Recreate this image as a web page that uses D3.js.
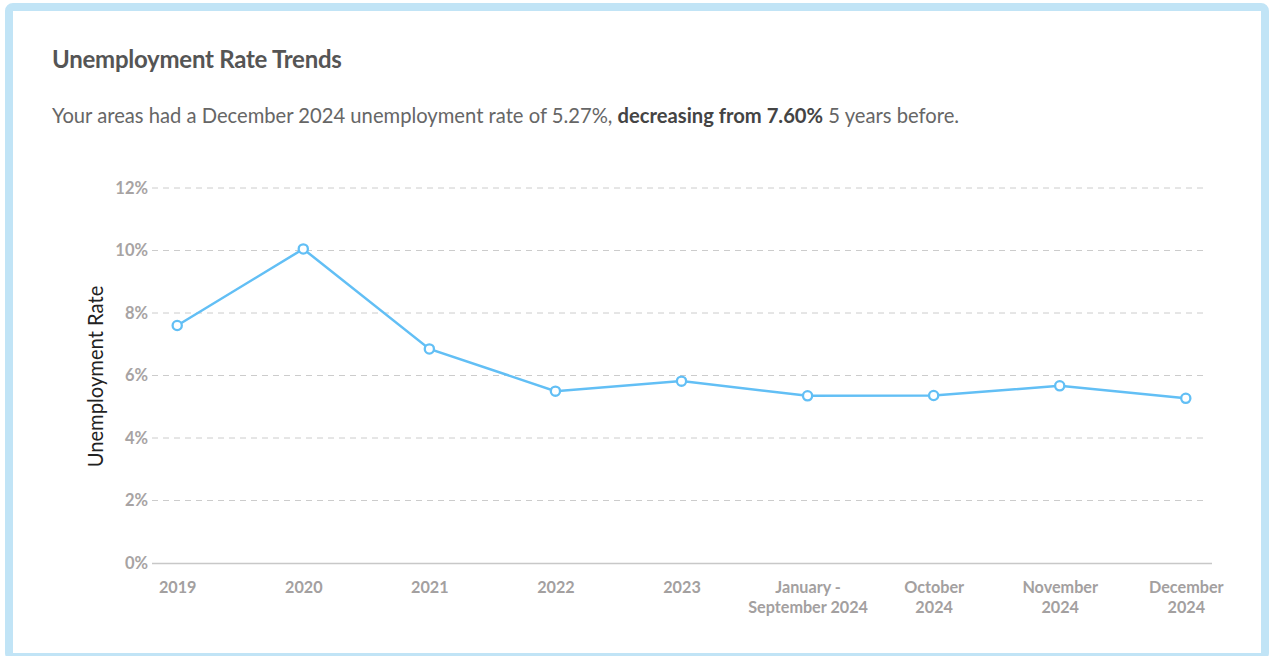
<!DOCTYPE html>
<html>
<head>
<meta charset="utf-8">
<script src="https://cdn.jsdelivr.net/npm/d3@7"></script>
<style>
  html, body { margin: 0; padding: 0; background: #ffffff; }
  svg { display: block; }
  text { font-family: Lato, "Open Sans", sans-serif; }
</style>
</head>
<body>
<svg id="chart" width="1269" height="656"></svg>
<script>
// Unemployment rate by period
const periods = ["2019", "2020", "2021", "2022", "2023", "Jan-Sep 2024", "Oct 2024", "Nov 2024", "Dec 2024"];
const periodLabels = [["2019"], ["2020"], ["2021"], ["2022"], ["2023"], ["January -", "September 2024"], ["October", "2024"], ["November", "2024"], ["December", "2024"]];
const rates = [7.60, 10.05, 6.85, 5.50, 5.82, 5.35, 5.36, 5.67, 5.27];
const yTicks = [0, 2, 4, 6, 8, 10, 12];

const svg = d3.select("#chart");

// card frame
svg.append("rect")
  .attr("x", 9).attr("y", 7)
  .attr("width", 1256).attr("height", 650)
  .attr("rx", 4)
  .attr("fill", "#ffffff")
  .attr("stroke", "#c1e4f6")
  .attr("stroke-width", 8);

// heading
svg.append("text")
  .attr("x", 52).attr("y", 68)
  .attr("font-size", 24).attr("font-weight", 700)
  .attr("fill", "#555555")
  .attr("letter-spacing", -0.25)
  .text("Unemployment Rate Trends");

const sub = svg.append("text")
  .attr("x", 52).attr("y", 123)
  .attr("font-size", 20.2)
  .attr("fill", "#666666");
sub.append("tspan").text("Your areas had a December 2024 unemployment rate of 5.27%, ");
sub.append("tspan").attr("font-weight", 700).attr("fill", "#444444").text("decreasing from 7.60%");
sub.append("tspan").text(" 5 years before.");

// scales
const x = d3.scalePoint().domain(periods).range([152, 1211]).padding(0.2);
const y = d3.scaleLinear().domain([0, 12]).range([563, 188]);

// horizontal grid
const grid = svg.append("g").attr("class", "grid");
grid.selectAll("line")
  .data(yTicks.filter(d => d > 0))
  .join("line")
  .attr("x1", 152).attr("x2", 1208)
  .attr("y1", d => y(d)).attr("y2", d => y(d))
  .attr("stroke", "#cccccc")
  .attr("stroke-width", 1)
  .attr("stroke-dasharray", "6,5");

// y axis
const yAxis = svg.append("g")
  .attr("transform", "translate(152,0)")
  .call(d3.axisLeft(y).tickValues(yTicks).tickFormat(d => d + "%").tickSize(0).tickPadding(4));
yAxis.select(".domain").remove();
yAxis.selectAll("text")
  .attr("font-family", "Lato, sans-serif")
  .attr("font-size", 16.5)
  .attr("font-weight", 700)
  .attr("fill", "#a7a3a3");

// x axis
const xAxis = svg.append("g")
  .attr("transform", "translate(0,563)")
  .call(d3.axisBottom(x).tickSize(0).tickPadding(0).tickFormat(""));
xAxis.select(".domain")
  .attr("d", "M152,0.5H1212")
  .attr("stroke", "#c8c8c8")
  .attr("stroke-width", 1.3);
xAxis.selectAll(".tick").each(function(d, i) {
  const t = d3.select(this).append("text")
    .attr("text-anchor", "middle")
    .attr("font-family", "Lato, sans-serif")
    .attr("font-size", 16.2)
    .attr("font-weight", 700)
    .attr("fill", "#a3a0a0");
  periodLabels[i].forEach((line, k) => {
    t.append("tspan").attr("x", 0).attr("y", 29.5 + k * 20.5).text(line);
  });
});

// y axis title
svg.append("text")
  .attr("transform", `translate(103,${(y(0) + y(12)) / 2 + 1}) rotate(-90)`)
  .attr("text-anchor", "middle")
  .attr("font-family", "'Liberation Sans', Arial, sans-serif")
  .attr("font-size", 20.2)
  .attr("fill", "#222222")
  .text("Unemployment Rate");

// series line
const pts = periods.map((p, i) => ({ p, v: rates[i] }));
svg.append("path")
  .datum(pts)
  .attr("fill", "none")
  .attr("stroke", "#62bff5")
  .attr("stroke-width", 2.5)
  .attr("d", d3.line().x(d => x(d.p)).y(d => y(d.v)));

svg.append("g").selectAll("circle")
  .data(pts)
  .join("circle")
  .attr("cx", d => x(d.p)).attr("cy", d => y(d.v))
  .attr("r", 4.6)
  .attr("fill", "#ffffff")
  .attr("stroke", "#62bff5")
  .attr("stroke-width", 2.3);
</script>
</body>
</html>
